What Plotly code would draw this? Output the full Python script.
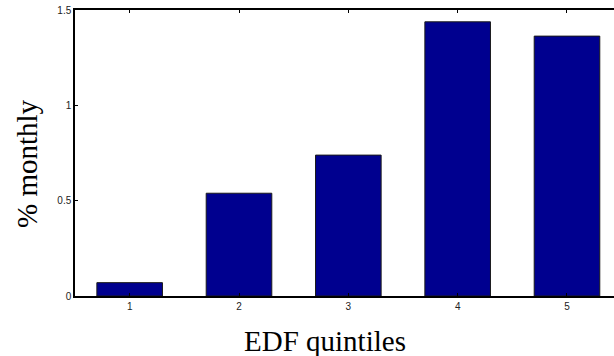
import plotly.graph_objects as go

categories = [1, 2, 3, 4, 5]
values = [0.07, 0.539, 0.739, 1.438, 1.363]
tick_vals_y = [0, 0.5, 1, 1.5]
tick_text_y = ["0", "0.5", "1", "1.5"]

W, H = 614, 356
L, R, T, B = 75, 0, 10, 60

fig = go.Figure(go.Bar(
    x=categories, y=values, width=0.6,
    marker=dict(color="#00008F", line=dict(color="#1a1a1a", width=1)),
))

fig.update_layout(
    width=W, height=H,
    margin=dict(l=L, r=R, t=T, b=B),
    plot_bgcolor="white", paper_bgcolor="white",
    showlegend=False,
    xaxis=dict(
        range=[0.5, 5.43], tickvals=categories, ticktext=[str(c) for c in categories],
        showline=True, linecolor="black", linewidth=1.5, mirror="ticks",
        ticks="inside", ticklen=3, tickcolor="black", showgrid=False, zeroline=False,
        tickfont=dict(family="Liberation Sans, Arial", size=10, color="#222"),
    ),
    yaxis=dict(
        range=[0, 1.5], tickvals=tick_vals_y, ticktext=tick_text_y,
        showline=True, linecolor="black", linewidth=1.5,
        ticks="inside", ticklen=3, tickcolor="black", showgrid=False, zeroline=False,
        tickfont=dict(family="Liberation Sans, Arial", size=10, color="#222"),
    ),
    annotations=[
        dict(text="EDF quintiles", xref="paper", yref="paper",
             x=(325 - L) / (W - L - R), y=-(341 - (H - B)) / (H - T - B),
             xanchor="center", yanchor="middle", showarrow=False,
             font=dict(family="Liberation Serif", size=29, color="black")),
        dict(text="% monthly", xref="paper", yref="paper",
             x=-(L - 27) / (W - L - R), y=(H - B - 164) / (H - T - B),
             xanchor="center", yanchor="middle", showarrow=False, textangle=-90,
             font=dict(family="Liberation Serif", size=29, color="black")),
    ],
)

fig.write_html("out.html")
